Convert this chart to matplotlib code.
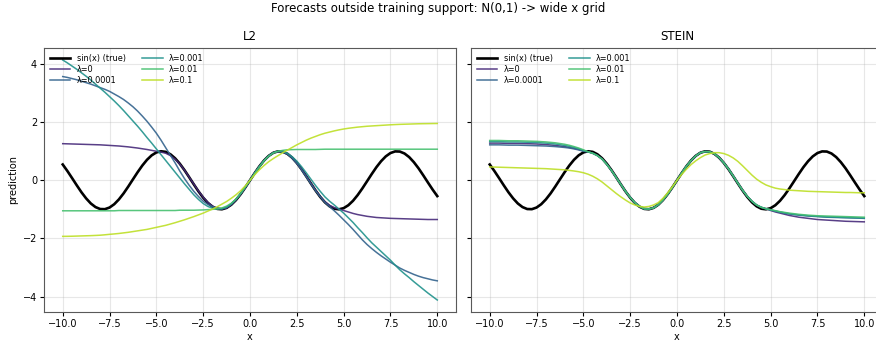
"""Forecasts of L2 vs STEIN fits on a wide x grid (training data was N(0,1))."""

import numpy as np
import matplotlib

matplotlib.use("Agg")
import matplotlib.pyplot as plt

# evaluation grid, step 0.25 (rows of 9 below: -10..-8, -7.75..-5.75, ... 8..10)
X = np.linspace(-10, 10, 81)

SIN_TRUE = [0.544, 0.318, 0.075, -0.173, -0.412, -0.623, -0.798, -0.922, -0.989,
            -0.994, -0.938, -0.823, -0.657, -0.451, -0.215, 0.033, 0.279, 0.508,
            0.706, 0.859, 0.959, 0.999, 0.978, 0.895, 0.757, 0.572, 0.351,
            0.108, -0.141, -0.382, -0.598, -0.778, -0.909, -0.984, -0.997, -0.949,
            -0.841, -0.682, -0.479, -0.247, 0.0, 0.247, 0.479, 0.682, 0.841,
            0.949, 0.997, 0.984, 0.909, 0.778, 0.598, 0.382, 0.141, -0.108,
            -0.351, -0.572, -0.757, -0.895, -0.978, -0.999, -0.959, -0.859, -0.706,
            -0.508, -0.279, -0.033, 0.215, 0.451, 0.657, 0.823, 0.938, 0.994,
            0.989, 0.922, 0.798, 0.623, 0.412, 0.173, -0.075, -0.318, -0.544]

LAMBDAS = ["0", "0.0001", "0.001", "0.01", "0.1"]

# predictions
L2_PRED = {
    "0": [1.26, 1.255, 1.25, 1.245, 1.24, 1.235, 1.23, 1.225, 1.22,
          1.21, 1.20, 1.19, 1.18, 1.165, 1.15, 1.13, 1.11, 1.085,
          1.06, 1.03, 1.00, 0.97, 0.93, 0.85, 0.73, 0.56, 0.35,
          0.11, -0.13, -0.37, -0.58, -0.76, -0.89, -0.97, -0.99, -0.95,
          -0.84, -0.68, -0.48, -0.25, 0.0, 0.25, 0.48, 0.68, 0.84,
          0.95, 0.99, 0.98, 0.91, 0.78, 0.6, 0.39, 0.15, -0.10,
          -0.34, -0.56, -0.74, -0.86, -0.94, -0.99, -1.04, -1.09, -1.14,
          -1.18, -1.21, -1.24, -1.26, -1.28, -1.29, -1.30, -1.31, -1.315,
          -1.32, -1.325, -1.33, -1.335, -1.34, -1.345, -1.35, -1.35, -1.35],
    "0.0001": [3.57, 3.54, 3.50, 3.46, 3.41, 3.36, 3.31, 3.25, 3.19,
               3.13, 3.06, 2.97, 2.88, 2.78, 2.66, 2.53, 2.38, 2.21,
               2.03, 1.83, 1.62, 1.38, 1.12, 0.86, 0.60, 0.32, 0.06,
               -0.17, -0.38, -0.56, -0.72, -0.83, -0.91, -0.96, -0.98, -0.94,
               -0.83, -0.67, -0.47, -0.24, 0.0, 0.25, 0.48, 0.68, 0.84,
               0.95, 0.99, 0.97, 0.90, 0.76, 0.58, 0.36, 0.12, -0.12,
               -0.36, -0.57, -0.76, -0.91, -1.05, -1.20, -1.36, -1.52, -1.69,
               -1.87, -2.05, -2.21, -2.35, -2.48, -2.60, -2.71, -2.82, -2.92,
               -3.02, -3.10, -3.17, -3.24, -3.30, -3.35, -3.39, -3.43, -3.46],
    "0.001": [4.14, 4.04, 3.93, 3.82, 3.70, 3.58, 3.45, 3.31, 3.17,
              3.03, 2.88, 2.73, 2.57, 2.40, 2.22, 2.04, 1.86, 1.67,
              1.47, 1.28, 1.08, 0.88, 0.68, 0.48, 0.28, 0.08, -0.12,
              -0.31, -0.50, -0.66, -0.80, -0.90, -0.96, -0.99, -0.98, -0.92,
              -0.81, -0.65, -0.46, -0.24, 0.0, 0.24, 0.47, 0.68, 0.84,
              0.95, 1.0, 0.99, 0.93, 0.81, 0.66, 0.47, 0.26, 0.04,
              -0.18, -0.38, -0.57, -0.72, -0.85, -0.99, -1.13, -1.29, -1.45,
              -1.63, -1.80, -1.98, -2.15, -2.30, -2.45, -2.60, -2.75, -2.92,
              -3.08, -3.22, -3.35, -3.49, -3.62, -3.75, -3.88, -4.00, -4.12],
    "0.01": [-1.05, -1.05, -1.05, -1.05, -1.05, -1.05, -1.05, -1.05, -1.05,
             -1.05, -1.05, -1.05, -1.04, -1.04, -1.04, -1.04, -1.04, -1.04,
             -1.04, -1.04, -1.04, -1.04, -1.04, -1.04, -1.04, -1.03, -1.03,
             -1.03, -1.03, -1.025, -1.02, -1.01, -1.0, -0.98, -0.95, -0.89,
             -0.79, -0.65, -0.45, -0.23, 0.0, 0.24, 0.46, 0.67, 0.83,
             0.94, 1.0, 1.03, 1.05, 1.055, 1.06, 1.06, 1.06, 1.06,
             1.06, 1.065, 1.07, 1.07, 1.07, 1.07, 1.07, 1.07, 1.07,
             1.07, 1.07, 1.07, 1.07, 1.07, 1.07, 1.07, 1.07, 1.07,
             1.07, 1.07, 1.07, 1.07, 1.07, 1.07, 1.07, 1.07, 1.07],
    "0.1": [-1.93, -1.928, -1.925, -1.92, -1.915, -1.91, -1.905, -1.898, -1.89,
            -1.876, -1.86, -1.846, -1.83, -1.81, -1.79, -1.765, -1.74, -1.715,
            -1.69, -1.655, -1.62, -1.585, -1.55, -1.505, -1.46, -1.41, -1.36,
            -1.305, -1.25, -1.19, -1.13, -1.06, -0.99, -0.91, -0.82, -0.73,
            -0.62, -0.50, -0.36, -0.19, 0.0, 0.19, 0.36, 0.51, 0.64,
            0.75, 0.85, 0.95, 1.04, 1.13, 1.22, 1.30, 1.38, 1.45,
            1.51, 1.57, 1.62, 1.66, 1.70, 1.735, 1.765, 1.79, 1.81,
            1.83, 1.845, 1.86, 1.87, 1.88, 1.89, 1.90, 1.91, 1.918,
            1.925, 1.93, 1.935, 1.94, 1.945, 1.948, 1.95, 1.953, 1.955],
}

# STEIN panel: the four small-lambda fits only differ in their tails
STEIN_LEFT = {  # x = -10 .. -5
    "0": [1.28, 1.28, 1.28, 1.275, 1.27, 1.27, 1.27, 1.265, 1.26, 1.255, 1.25,
          1.24, 1.23, 1.215, 1.20, 1.18, 1.16, 1.13, 1.10, 1.06, 1.01],
    "0.0001": [1.22, 1.22, 1.22, 1.215, 1.21, 1.21, 1.21, 1.205, 1.20, 1.195, 1.19,
               1.185, 1.18, 1.17, 1.16, 1.145, 1.13, 1.11, 1.08, 1.045, 1.00],
    "0.001": [1.33, 1.33, 1.33, 1.325, 1.32, 1.32, 1.32, 1.315, 1.31, 1.305, 1.30,
              1.29, 1.28, 1.265, 1.25, 1.225, 1.20, 1.17, 1.13, 1.085, 1.03],
    "0.01": [1.37, 1.37, 1.37, 1.365, 1.36, 1.36, 1.36, 1.355, 1.35, 1.345, 1.34,
             1.33, 1.32, 1.305, 1.29, 1.265, 1.24, 1.205, 1.16, 1.11, 1.05],
}
STEIN_MID = [0.98, 0.93, 0.85, 0.73, 0.55, 0.34, 0.10, -0.14, -0.38, -0.59,  # x = -4.75 .. 4.75
             -0.77, -0.90, -0.98, -0.99, -0.95, -0.84, -0.68, -0.48, -0.25, 0.0,
             0.25, 0.48, 0.68, 0.84, 0.95, 0.99, 0.98, 0.91, 0.78, 0.60,
             0.39, 0.15, -0.10, -0.34, -0.55, -0.72, -0.85, -0.93, -0.98]
STEIN_RIGHT = {  # x = 5 .. 10
    "0": [-1.04, -1.09, -1.13, -1.17, -1.21, -1.24, -1.27, -1.29, -1.31, -1.33, -1.35,
          -1.36, -1.37, -1.38, -1.39, -1.40, -1.41, -1.415, -1.42, -1.425, -1.43],
    "0.0001": [-1.02, -1.06, -1.10, -1.13, -1.16, -1.18, -1.20, -1.215, -1.23, -1.24, -1.25,
               -1.26, -1.27, -1.275, -1.28, -1.285, -1.29, -1.295, -1.30, -1.305, -1.31],
    "0.001": [-1.02, -1.055, -1.09, -1.12, -1.15, -1.17, -1.19, -1.205, -1.22, -1.23, -1.24,
              -1.25, -1.26, -1.265, -1.27, -1.275, -1.28, -1.285, -1.29, -1.295, -1.30],
    "0.01": [-1.01, -1.045, -1.08, -1.105, -1.13, -1.15, -1.17, -1.185, -1.20, -1.21, -1.22,
             -1.225, -1.23, -1.235, -1.24, -1.245, -1.25, -1.255, -1.26, -1.265, -1.27],
}
STEIN_01 = [0.46, 0.455, 0.45, 0.445, 0.44, 0.435, 0.43, 0.425, 0.42,
            0.415, 0.41, 0.405, 0.40, 0.39, 0.38, 0.37, 0.36, 0.34,
            0.32, 0.295, 0.26, 0.21, 0.14, 0.05, -0.06, -0.19, -0.32,
            -0.45, -0.57, -0.68, -0.78, -0.85, -0.90, -0.92, -0.90, -0.85,
            -0.77, -0.62, -0.43, -0.22, 0.0, 0.20, 0.38, 0.54, 0.67,
            0.78, 0.87, 0.92, 0.95, 0.95, 0.92, 0.86, 0.77, 0.65,
            0.50, 0.34, 0.18, 0.04, -0.07, -0.16, -0.22, -0.27, -0.30,
            -0.32, -0.34, -0.35, -0.36, -0.37, -0.38, -0.385, -0.39, -0.395,
            -0.40, -0.405, -0.41, -0.415, -0.42, -0.42, -0.425, -0.43, -0.43]

STEIN_PRED = {lam: STEIN_LEFT[lam] + STEIN_MID + STEIN_RIGHT[lam] for lam in STEIN_LEFT}
STEIN_PRED["0.1"] = STEIN_01

W, H = 876, 347
fig = plt.figure(figsize=(W / 100, H / 100), dpi=100)
ax_l2 = fig.add_axes([44 / W, 1 - 312 / H, 412 / W, 264 / H])
ax_st = fig.add_axes([471 / W, 1 - 312 / H, 412 / W, 264 / H], sharey=ax_l2)

colors = plt.cm.viridis(np.linspace(0.12, 0.9, len(LAMBDAS)))

for ax, title, preds in [(ax_l2, "L2", L2_PRED), (ax_st, "STEIN", STEIN_PRED)]:
    ax.plot(X, SIN_TRUE, color="black", lw=1.9, label="sin(x) (true)")
    for lam, c in zip(LAMBDAS, colors):
        ax.plot(X, preds[lam], color=c, lw=1.1, alpha=0.9, label=f"λ={lam}")
    ax.set_title(title, fontsize=8.5)
    ax.set_xlabel("x", fontsize=7, labelpad=2)
    ax.grid(True, alpha=0.3)
    ax.tick_params(labelsize=7, length=3, pad=2)
    for s in ax.spines.values():
        s.set_color("0.35")
    ax.legend(loc="upper left", ncol=2, fontsize=5.9, frameon=False,
              handlelength=2.5, columnspacing=2.0, borderaxespad=0.3,
              labelspacing=0.25)

ax_l2.set_ylabel("prediction", fontsize=7, labelpad=3)
plt.setp(ax_st.get_yticklabels(), visible=False)
fig.suptitle("Forecasts outside training support: N(0,1) -> wide x grid",
             fontsize=8.5, y=0.995)

fig.savefig("out.png", dpi=100)
